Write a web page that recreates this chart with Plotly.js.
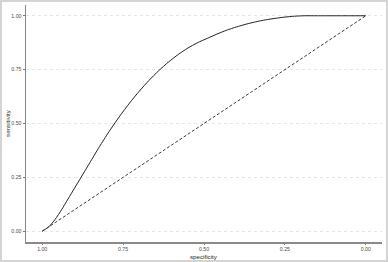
<!DOCTYPE html>
<html>
<head>
<meta charset="utf-8">
<script src="https://cdn.plot.ly/plotly-3.0.1.min.js"></script>
<style>
  html, body { margin: 0; padding: 0; background: #fff; }
  #frame { width: 384px; height: 258px; border: 2px solid #d4d4d4; }
  #chart { width: 384px; height: 258px; }
</style>
</head>
<body>
<div id="frame"><div id="chart"></div></div>
<script>
// ROC curve (specificity runs 1 -> 0)
const specificity = [1.00, 0.98, 0.96, 0.94, 0.92, 0.90, 0.88, 0.85, 0.82, 0.79,
                     0.76, 0.73, 0.70, 0.67, 0.64, 0.61, 0.58, 0.55, 0.52, 0.49,
                     0.46, 0.43, 0.40, 0.37, 0.34, 0.31, 0.28, 0.25, 0.22, 0.19,
                     0.15, 0.10, 0.05, 0.00];
const sensitivity = [0.000, 0.020, 0.055, 0.100, 0.150, 0.200, 0.250, 0.325, 0.400, 0.470,
                     0.535, 0.595, 0.650, 0.700, 0.745, 0.785, 0.820, 0.850, 0.875, 0.895,
                     0.915, 0.933, 0.948, 0.961, 0.972, 0.981, 0.988, 0.994, 0.998, 1.000,
                     1.000, 1.000, 1.000, 1.000];

// chance line
const chanceSpec = [1, 0];
const chanceSens = [0, 1];

const tickVals = [0, 0.25, 0.5, 0.75, 1];
const tickText = ["0.00", "0.25", "0.50", "0.75", "1.00"];

const tickFont = { family: "Liberation Sans, Arial, sans-serif", size: 5.2, color: "#4d4d4d" };
const titleFont = { family: "Liberation Sans, Arial, sans-serif", size: 6.2, color: "#1a1a1a" };

const traces = [
  {
    x: chanceSpec, y: chanceSens,
    type: "scatter", mode: "lines",
    line: { color: "#222", width: 0.9, dash: "3px,2px" },
    hoverinfo: "skip",
  },
  {
    x: specificity, y: sensitivity,
    type: "scatter", mode: "lines",
    line: { color: "#222", width: 1, shape: "spline", smoothing: 0.6 },
  },
];

const layout = {
  width: 384, height: 258,
  margin: { l: 24, r: 4, t: 3, b: 18 },
  paper_bgcolor: "#fff",
  plot_bgcolor: "#fff",
  showlegend: false,
  xaxis: {
    range: [1.05, -0.05],
    tickvals: tickVals, ticktext: tickText,
    tickfont: tickFont,
    ticks: "outside", ticklen: 1.5, tickwidth: 0.8, tickcolor: "#555",
    showline: true, linecolor: "#8a8a8a", linewidth: 1.5,
    showgrid: false, zeroline: false,
  },
  yaxis: {
    range: [-0.05, 1.05],
    tickvals: tickVals, ticktext: tickText,
    tickfont: tickFont,
    ticks: "outside", ticklen: 2, tickwidth: 0.8, tickcolor: "#555",
    showline: true, linecolor: "#8a8a8a", linewidth: 1.5,
    showgrid: true, gridcolor: "#dedede", gridwidth: 0.8, griddash: "dot",
    zeroline: false,
    title: { text: "sensitivity", font: titleFont, standoff: 0 },
  },
  annotations: [
    {
      text: "specificity", font: titleFont, showarrow: false,
      xref: "paper", yref: "paper", x: 0.5, y: -0.062,
      xanchor: "center", yanchor: "middle",
    },
  ],
};

Plotly.newPlot("chart", traces, layout, { displayModeBar: false, staticPlot: true });
</script>
</body>
</html>
